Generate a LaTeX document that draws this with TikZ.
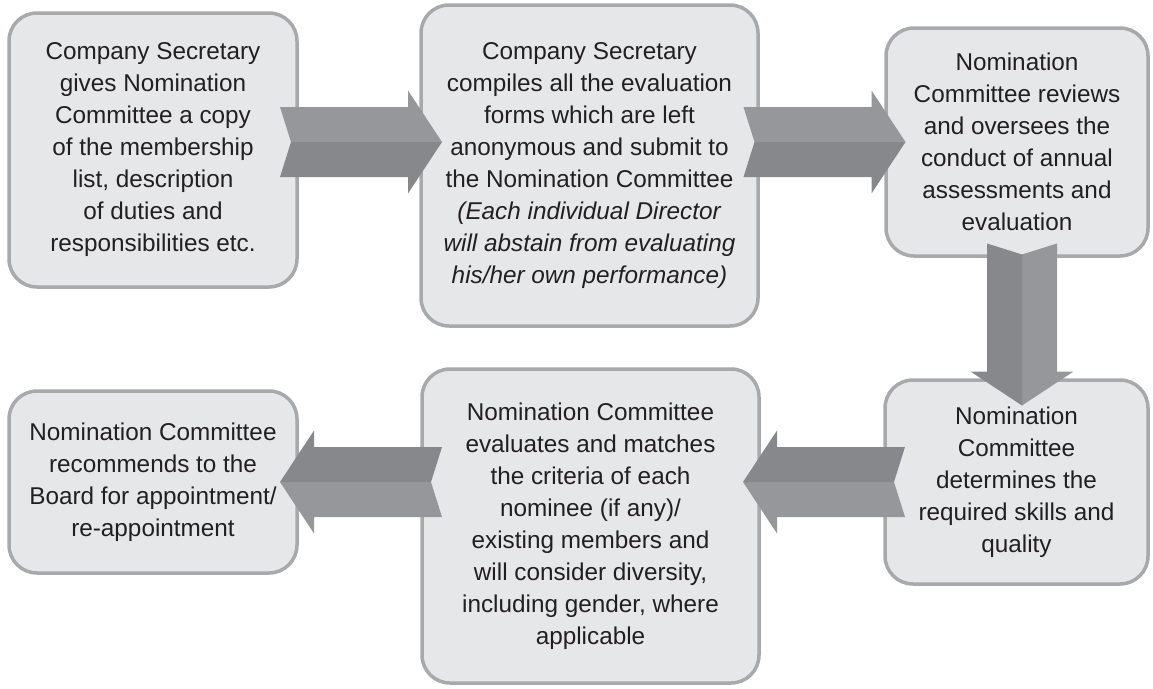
\documentclass[tikz,border=0pt]{standalone}
\usepackage{fontspec}
\setmainfont{Liberation Sans}
\definecolor{boxfill}{HTML}{E6E7E8}
\definecolor{boxline}{HTML}{A7A9AC}
\definecolor{arrlight}{HTML}{96979A}
\definecolor{arrdark}{HTML}{87888B}
\definecolor{txt}{HTML}{231F20}
\begin{document}
\begin{tikzpicture}[x=1pt,y=-1pt,
  stepbox/.style={draw=boxline, line width=3.5pt, fill=boxfill, rounded corners=28pt,
    align=center, text=txt, font=\fontsize{24.3}{32}\selectfont, inner sep=0pt},
  pics/barrow/.style={code={
    \fill[arrlight] (-81,-35) -- (47,-35) -- (47,-51.5) -- (81,0) -- (-70,0) -- cycle;
    \fill[arrdark] (-70,0) -- (81,0) -- (47,51.5) -- (47,35) -- (-81,35) -- cycle;
  }}]
\useasboundingbox (0,0) rectangle (1153,688);
\node[stepbox, minimum width=288pt, minimum height=274pt] (b1) at (153,150)
  {Company Secretary\\gives Nomination\\Committee a copy\\of the membership\\list, description\\of duties and\\responsibilities etc.};
\node[stepbox, minimum width=337pt, minimum height=321pt] (b2) at (589.5,165.5)
  {Company Secretary\\compiles all the evaluation\\forms which are left\\anonymous and submit to\\the Nomination Committee\\\textit{(Each individual Director}\\\textit{will abstain from evaluating}\\\textit{his/her own performance)}};
\node[stepbox, minimum width=262pt, minimum height=228pt] (b3) at (1017,142)
  {Nomination\\Committee reviews\\and oversees the\\conduct of annual\\assessments and\\evaluation};
\node[stepbox, minimum width=263pt, minimum height=204pt] (b5) at (1016.5,482)
  {Nomination\\Committee\\determines the\\required skills and\\quality};
\node[stepbox, minimum width=337pt, minimum height=314pt] (b6) at (590.5,526)
  {Nomination Committee\\evaluates and matches\\the criteria of each\\nominee (if any)/\\existing members and\\will consider diversity,\\including gender, where\\applicable};
\node[stepbox, minimum width=288pt, minimum height=182pt] (b4) at (153,482)
  {Nomination Committee\\recommends to the\\Board for appointment/\\re-appointment};
\coordinate (a12) at (361,142);
\coordinate (a23) at (824.5,142);
\coordinate (a35) at (1022,324.5);
\coordinate (a56) at (824,482);
\coordinate (a64) at (361,482);
\pic at (a12) {barrow};
\pic at (a23) {barrow};
\pic[rotate=-90] at (a35) {barrow};
\pic[rotate=180] at (a56) {barrow};
\pic[rotate=180] at (a64) {barrow};
\end{tikzpicture}
\end{document}
